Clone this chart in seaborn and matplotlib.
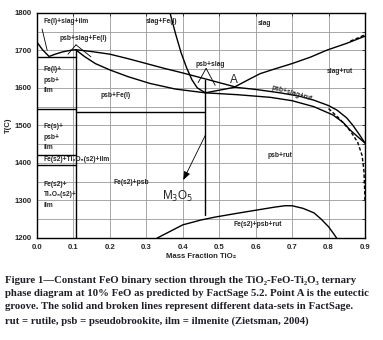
# Phase diagram TiO2-FeO-Ti2O3 at 10% FeO (FactSage 5.2), redrawn with seaborn
import matplotlib
matplotlib.use("Agg")
import matplotlib.pyplot as plt
import seaborn as sns

sns.set_style("white")
SANS = ["Liberation Sans", "DejaVu Sans"]
SERIF = ["Liberation Serif", "DejaVu Serif"]
plt.rcParams["font.family"] = SANS

# ---- phase boundaries (x = mass fraction TiO2, T in C) ----
left_liq_x = [0.0, 0.015, 0.033, 0.05, 0.07, 0.09, 0.106]
left_liq_t = [1722, 1702, 1684, 1690, 1696, 1700, 1702]

psb_liq_x = [0.106, 0.15, 0.2, 0.25, 0.3, 0.35, 0.4, 0.47, 0.543]
psb_liq_t = [1702, 1697, 1690, 1678, 1665, 1652, 1640, 1622, 1603]

rut_liq_x = [0.543, 0.58, 0.612, 0.65, 0.7, 0.75, 0.796, 0.85, 0.9]
rut_liq_t = [1603, 1622, 1638, 1650, 1665, 1682, 1701, 1719, 1738]

fel_x = [0.365, 0.38, 0.395, 0.41, 0.425, 0.44, 0.462]
fel_t = [1800, 1745, 1695, 1655, 1622, 1600, 1587]

psb_fel_x = [0.106, 0.13, 0.16, 0.2, 0.25, 0.31, 0.38, 0.462]
psb_fel_t = [1702, 1684, 1665, 1648, 1630, 1612, 1597, 1587]

band_up_x = [0.462, 0.50, 0.543, 0.6, 0.667, 0.72, 0.758, 0.8, 0.823, 0.85, 0.867, 0.885, 0.9]
band_up_t = [1587, 1594, 1602, 1596, 1587, 1578, 1568, 1553, 1541, 1520, 1500, 1475, 1453]

band_lo_x = [0.462, 0.55, 0.64, 0.70, 0.76, 0.812, 0.84, 0.859, 0.88, 0.9]
band_lo_t = [1587, 1582, 1575, 1566, 1550, 1528, 1508, 1488, 1470, 1453]

dash_x = [0.80, 0.83, 0.86, 0.88, 0.892, 0.897, 0.899, 0.9]
dash_t = [1545, 1518, 1485, 1455, 1420, 1380, 1330, 1300]

dash_top_x = [0.86, 0.88, 0.9]
dash_top_t = [1725, 1733, 1742]

low_x = [0.33, 0.36, 0.40, 0.45, 0.49, 0.55, 0.60, 0.65, 0.68, 0.70, 0.73, 0.76, 0.78, 0.80, 0.815, 0.822]
low_t = [1200, 1215, 1235, 1248, 1256, 1266, 1274, 1282, 1286, 1286, 1279, 1267, 1250, 1230, 1210, 1200]

# straight boundaries: (x0, x1, t0, t1)
segments = [
    (0.106, 0.106, 1200, 1702),   # ilmenite limit
    (0.0, 0.106, 1683, 1683),
    (0.0, 0.106, 1544, 1544),
    (0.106, 0.462, 1535, 1535),
    (0.0, 0.106, 1421, 1421),
    (0.0, 0.106, 1395, 1395),
    (0.462, 0.462, 1262, 1622),
]

# leader lines (x0, x1, t0, t1)
leaders = [
    (0.014, 0.028, 1757, 1700),
    (0.107, 0.085, 1715, 1690),
    (0.107, 0.148, 1715, 1683),
    (0.464, 0.442, 1652, 1614),
    (0.464, 0.489, 1652, 1607),
]

arrow_from = (0.465, 1480)
arrow_to = (0.398, 1348)

labels = [
    ("Fe(l)+slag+ilm", 0.018, 1778, "left"),
    ("slag+Fe(l)", 0.342, 1778, "center"),
    ("slag", 0.625, 1772, "center"),
    ("psb+slag+Fe(l)", 0.128, 1731, "center"),
    ("Fe(l)+\npsb+\nilm", 0.018, 1620, "left"),
    ("psb+Fe(l)", 0.216, 1581, "center"),
    ("psb+slag", 0.475, 1662, "center"),
    ("slag+rut", 0.83, 1645, "center"),
    ("psb+rut", 0.667, 1421, "center"),
    ("Fe(s)+\npsb+\nilm", 0.018, 1468, "left"),
    ("Fe(s2)+Ti\u2083O\u2085(s2)+ilm", 0.018, 1408, "left"),
    ("Fe(s2)+\nTi\u2083O\u2085(s2)+\nilm", 0.018, 1315, "left"),
    ("Fe(s2)+psb", 0.258, 1347, "center"),
    ("Fe(s2)+psb+rut", 0.605, 1235, "center"),
]

caption = ("Figure 1\u2014Constant FeO binary section through the TiO\u2082-FeO-Ti\u2082O\u2083 ternary\n"
           "phase diagram at 10% FeO as predicted by FactSage 5.2. Point A is the eutectic\n"
           "groove. The solid and broken lines represent different data-sets in FactSage.\n"
           "rut = rutile, psb = pseudobrookite, ilm = ilmenite (Zietsman, 2004)")

fig = plt.figure(figsize=(3.83, 3.40), dpi=100)
ax = fig.add_axes([0.0966, 0.30, 0.8564, 0.662])

lw = 1.0
solid = [(left_liq_x, left_liq_t), (psb_liq_x, psb_liq_t), (rut_liq_x, rut_liq_t),
         (fel_x, fel_t), (psb_fel_x, psb_fel_t), (band_up_x, band_up_t),
         (band_lo_x, band_lo_t), (low_x, low_t)]
for xs, ts in solid:
    sns.lineplot(x=xs, y=ts, ax=ax, color="black", lw=lw, sort=False, estimator=None)
for xs, ts in [(dash_x, dash_t), (dash_top_x, dash_top_t)]:
    sns.lineplot(x=xs, y=ts, ax=ax, color="black", lw=lw, sort=False, estimator=None,
                 linestyle=(0, (2.5, 1.5)))
for x0, x1, t0, t1 in segments:
    sns.lineplot(x=[x0, x1], y=[t0, t1], ax=ax, color="black", lw=lw, sort=False, estimator=None)
for x0, x1, t0, t1 in leaders:
    sns.lineplot(x=[x0, x1], y=[t0, t1], ax=ax, color="black", lw=0.6, sort=False, estimator=None)

ax.annotate("", xy=arrow_to, xytext=arrow_from,
            arrowprops=dict(arrowstyle="-|>,head_length=0.5,head_width=0.2", color="black", lw=0.6))

for txt, x, t, ha in labels:
    ax.text(x, t, txt, ha=ha, va="center", fontsize=4.8, fontweight="bold",
            linespacing=1.7, family=SANS)
ax.text(0.7, 1584, "psb+slag+rut", ha="center", va="center", fontsize=4.8,
        fontweight="bold", rotation=-16, family=SANS)
ax.text(0.54, 1622, "A", ha="center", va="center", fontsize=8.5, family=SANS)
ax.text(0.386, 1311, "M$_3$O$_5$", ha="center", va="center", fontsize=8.5)

ax.set_xlim(0, 0.9)
ax.set_ylim(1200, 1800)
ax.set_xticks([i / 10 for i in range(10)])
ax.set_yticks(range(1200, 1801, 100))
ax.set_yticks(range(1250, 1800, 100), minor=True)
ax.grid(True, which="both", color="#999999", lw=0.6)
ax.set_axisbelow(True)
ax.tick_params(which="both", direction="in", length=2, width=0.6, top=True, right=True,
               labelsize=5.6, pad=4)
for lab in ax.get_xticklabels() + ax.get_yticklabels():
    lab.set_fontweight("bold")
for s in ax.spines.values():
    s.set_color("black")
    s.set_linewidth(1.0)
ax.set_xlabel("Mass Fraction TiO\u2082", fontsize=5.6, fontweight="bold", labelpad=2)
ax.set_ylabel("T(C)", fontsize=5.6, fontweight="bold", labelpad=2)

fig.text(0.013, 0.188, caption, ha="left", va="top", fontsize=7.75, fontweight="bold",
         family=SERIF, color="#1e1e28", linespacing=1.6)

fig.savefig("out.png", dpi=100)
